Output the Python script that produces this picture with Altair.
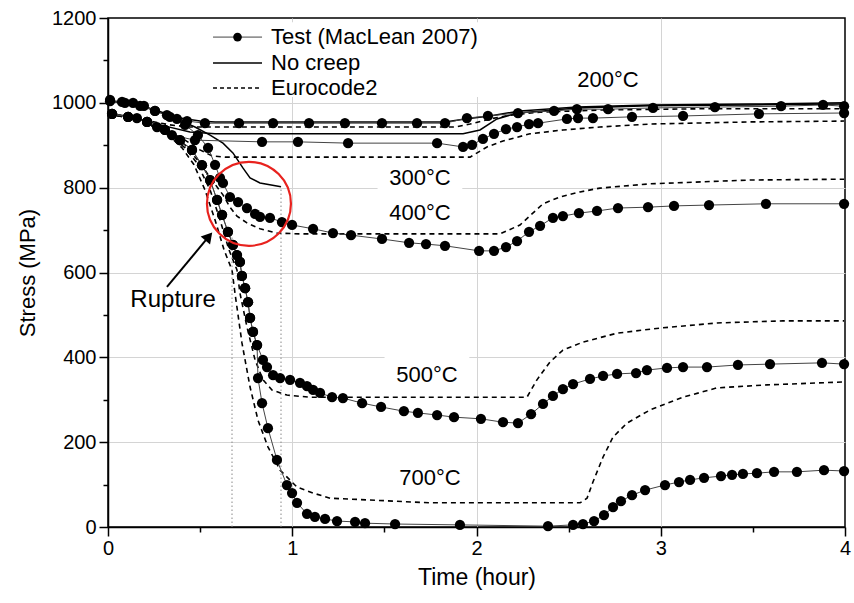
import altair as alt
import pandas as pd

FONT = "Liberation Sans"

# ---------------- data (time in hours, stress in MPa) -------------
# Test (MacLean 2007)
test200_t = [0.011, 0.076, 0.136, 0.195, 0.255, 0.320, 0.374, 0.429, 0.526, 0.711, 0.896, 1.091, 1.286, 1.487,
             1.677, 1.829, 1.948, 2.062, 2.225, 2.421, 2.545, 2.714, 2.958, 3.294, 3.653, 3.881, 3.995]
test200_s = [1007, 1002, 1000, 993, 981, 971, 962, 957, 952, 952, 952, 952, 952, 952,
             952, 952, 964, 969, 976, 981, 985, 985, 988, 990, 992, 995, 992]

test300_t = [0.022, 0.109, 0.157, 0.212, 0.266, 0.347, 0.472, 0.836, 1.031, 1.303, 1.786, 1.927, 1.976,
             2.035, 2.095, 2.160, 2.220, 2.285, 2.334, 2.491, 2.551, 2.632, 2.844, 3.121, 3.533, 3.995]
test300_s = [974, 967, 964, 955, 943, 924, 912, 908, 908, 905, 905, 896, 901,
             915, 927, 938, 943, 950, 952, 962, 964, 964, 967, 969, 974, 976]

test400_t = [0.011, 0.092, 0.174, 0.255, 0.336, 0.418, 0.488, 0.543, 0.581, 0.608, 0.624, 0.662, 0.706,
             0.754, 0.798, 0.825, 0.879, 0.944, 0.999, 1.113, 1.221, 1.319, 1.487, 1.634, 1.726, 1.829,
             2.014, 2.095, 2.160, 2.220, 2.285, 2.345, 2.415, 2.469, 2.556, 2.654, 2.768, 2.931, 3.072,
             3.262, 3.571, 3.995]
test400_s = [1004, 1000, 993, 981, 967, 948, 924, 894, 854, 823, 811, 778, 766,
             752, 738, 731, 729, 719, 712, 703, 693, 688, 679, 670, 667, 663,
             651, 651, 660, 674, 696, 710, 729, 733, 740, 745, 752, 754, 757,
             759, 762, 762]

test500_t = [0.022, 0.109, 0.212, 0.309, 0.391, 0.456, 0.510, 0.554, 0.592, 0.619, 0.651, 0.678, 0.700,
             0.716, 0.727, 0.744, 0.760, 0.771, 0.787, 0.809, 0.841, 0.863, 0.896, 0.934, 0.988, 1.042,
             1.080, 1.113, 1.151, 1.216, 1.275, 1.379, 1.482, 1.606, 1.682, 1.786, 1.878, 2.024, 2.144,
             2.225, 2.296, 2.361, 2.415, 2.469, 2.524, 2.616, 2.687, 2.763, 2.866, 2.925, 3.034, 3.121,
             3.251, 3.419, 3.593, 3.875, 3.995]
test500_s = [974, 967, 955, 936, 912, 889, 853, 818, 771, 736, 696, 665, 641,
             625, 592, 563, 530, 493, 460, 429, 394, 377, 358, 351, 347, 340,
             332, 323, 316, 306, 304, 292, 283, 273, 269, 264, 259, 255, 247,
             245, 266, 290, 309, 325, 337, 349, 356, 361, 363, 370, 375, 377,
             377, 382, 384, 387, 384]

test700_t = [0.022, 0.109, 0.212, 0.309, 0.391, 0.456, 0.510, 0.554, 0.592, 0.619, 0.651, 0.678, 0.700,
             0.716, 0.727, 0.744, 0.760, 0.771, 0.787, 0.809, 0.814, 0.836, 0.868, 0.917, 0.971, 0.999,
             1.026, 1.080, 1.123, 1.178, 1.243, 1.341, 1.395, 1.558, 1.910, 2.388, 2.524, 2.578, 2.638,
             2.692, 2.741, 2.784, 2.844, 2.915, 3.023, 3.099, 3.159, 3.235, 3.327, 3.387, 3.446, 3.522,
             3.615, 3.739, 3.886, 3.995]
test700_s = [974, 967, 955, 936, 912, 889, 853, 818, 771, 736, 696, 665, 641,
             625, 592, 563, 530, 493, 460, 429, 351, 292, 233, 158, 99, 80,
             57, 31, 24, 19, 14, 12, 9, 7, 5, 2, 5, 7, 14,
             28, 47, 61, 75, 87, 99, 106, 111, 116, 120, 123, 125, 127,
             130, 130, 134, 132]

# No creep
nc200_t = [0, 0.119, 0.255, 0.391, 0.499, 0.581, 1.829, 1.938, 2.073, 2.236, 2.545, 2.942, 3.484, 3.995]
nc200_s = [1004, 1000, 983, 964, 957, 955, 955, 962, 969, 981, 990, 995, 997, 1000]
nc300_t = [0, 0.119, 0.282, 0.445, 0.581, 1.927, 2.019, 2.111, 2.220, 2.361, 2.545, 2.942, 3.484, 3.995]
nc300_s = [976, 967, 948, 931, 927, 927, 936, 962, 976, 981, 988, 993, 995, 997]
nc400_t = [0, 0.119, 0.255, 0.364, 0.472, 0.554, 0.624, 0.678, 0.733, 0.771, 0.825, 0.939]
nc400_s = [1004, 1000, 983, 964, 943, 924, 905, 882, 846, 823, 811, 802]

# Eurocode2
ec200_t = [0, 0.119, 0.228, 0.336, 0.445, 1.883, 1.965, 2.073, 2.182, 2.345, 2.670, 3.213, 3.995]
ec200_s = [974, 967, 957, 948, 943, 943, 950, 962, 971, 978, 983, 986, 986]
ec300_t = [0, 0.119, 0.228, 0.336, 0.418, 0.499, 0.564, 0.635, 1.965, 2.057, 2.144, 2.290, 2.469,
           2.670, 2.942, 3.484, 3.995]
ec300_s = [974, 964, 950, 931, 912, 889, 875, 872, 872, 896, 910, 927, 936, 943, 950, 955, 957]
ec400_t = [0, 0.119, 0.228, 0.336, 0.418, 0.499, 0.564, 0.624, 0.662, 0.700, 0.754, 0.825, 0.917,
           1.042, 2.128, 2.236, 2.361, 2.453, 2.562, 2.670, 2.942, 3.484, 3.995]
ec400_s = [974, 964, 950, 929, 901, 858, 818, 783, 754, 733, 717, 703, 693,
           691, 691, 712, 762, 778, 790, 799, 809, 818, 820]
ec500_t = [0, 0.119, 0.228, 0.336, 0.418, 0.483, 0.554, 0.608, 0.657, 0.700, 0.716, 0.754, 0.798,
           0.841, 0.890, 0.971, 1.096, 2.274, 2.328, 2.399, 2.469, 2.578, 2.763, 2.996, 3.305, 3.663, 3.995]
ec500_s = [974, 964, 948, 924, 894, 858, 795, 724, 653, 606, 552, 472, 394,
           347, 323, 311, 306, 306, 347, 389, 417, 436, 457, 469, 481, 486, 486]
ec700_t = [0, 0.119, 0.228, 0.326, 0.402, 0.467, 0.526, 0.581, 0.630, 0.673, 0.689, 0.727, 0.771,
           0.814, 0.868, 0.934, 1.026, 1.113, 1.205, 1.748, 2.562, 2.600, 2.632, 2.687, 2.741, 2.817,
           2.942, 3.121, 3.305, 3.577, 3.995]
ec700_s = [974, 964, 948, 924, 894, 854, 795, 724, 653, 606, 552, 434, 330,
           252, 189, 134, 94, 80, 68, 57, 57, 68, 106, 165, 212, 245,
           276, 306, 328, 335, 342]

# rupture markers
rupture_t = [0.673, 0.939]
rupture_s = [700, 802]

# temperature labels
label_text = ["200°C", "300°C", "400°C", "500°C", "700°C"]
label_t = [2.714, 1.693, 1.693, 1.731, 1.748]
label_s = [1054, 823, 740, 358, 116]

# rupture annotation
rupture_label = "Rupture"
rupture_label_t = 0.353
rupture_label_s = 535
arrow_t = [0.320, 0.542]
arrow_s = [566, 682]
circle_t = 0.765
circle_s = 762

legend_names = ["Test (MacLean 2007)", "No creep", "Eurocode2"]

# ---------------- build tables ----------------
def frame(name, kind, ts, ss):
    return pd.DataFrame({"series": name, "kind": kind, "t": ts, "s": ss, "order": list(range(len(ts)))})

curves = pd.concat([
    frame("T200", "test", test200_t, test200_s),
    frame("T300", "test", test300_t, test300_s),
    frame("T400", "test", test400_t, test400_s),
    frame("T500", "test", test500_t, test500_s),
    frame("T700", "test", test700_t, test700_s),
    frame("N200", "nocreep", nc200_t, nc200_s),
    frame("N300", "nocreep", nc300_t, nc300_s),
    frame("N400", "nocreep", nc400_t, nc400_s),
    frame("E200", "ec2", ec200_t, ec200_s),
    frame("E300", "ec2", ec300_t, ec300_s),
    frame("E400", "ec2", ec400_t, ec400_s),
    frame("E500", "ec2", ec500_t, ec500_s),
    frame("E700", "ec2", ec700_t, ec700_s),
], ignore_index=True)

labels_df = pd.DataFrame({"text": label_text, "t": label_t, "s": label_s})
# white boxes behind the labels (hide gridlines), derived from label positions
boxes_df = pd.DataFrame({
    "t": [t - 0.23 for t in label_t] + [0.53],
    "t2": [t + 0.23 for t in label_t] + [2.03],
    "s": [s - 33 for s in label_s] + [1014],
    "s2": [s + 47 for s in label_s] + [1190],
})
rupt_df = pd.DataFrame({"t": rupture_t, "s0": [0, 0], "s": rupture_s})
arrow_df = pd.DataFrame({"t": [arrow_t[0]], "s": [arrow_s[0]], "t2": [arrow_t[1]], "s2": [arrow_s[1]]})
head_df = pd.DataFrame({"t": [arrow_t[1] + 0.005], "s": [arrow_s[1] + 3]})
circle_df = pd.DataFrame({"t": [circle_t], "s": [circle_s]})
rtext_df = pd.DataFrame({"t": [rupture_label_t], "s": [rupture_label_s], "text": [rupture_label]})

# legend in data coordinates (upper-left)
leg_y = [1155, 1094, 1035]
leg_line = pd.DataFrame({"kind": ["test", "test", "nocreep", "nocreep", "ec2", "ec2"],
                         "t": [0.570, 0.836] * 3,
                         "s": [leg_y[0], leg_y[0], leg_y[1], leg_y[1], leg_y[2], leg_y[2]]})
leg_text = pd.DataFrame({"text": legend_names, "t": [0.885] * 3, "s": leg_y})
leg_dot = pd.DataFrame({"t": [0.703], "s": [leg_y[0]]})

# ---------------- scales & axes ----------------
xs = alt.Scale(domain=[0, 4], nice=False, zero=False)
ys = alt.Scale(domain=[0, 1200], nice=False, zero=False)

AX = dict(
    grid=True, gridColor="#d4d4d4", gridWidth=1,
    labelOverlap=False, labelFlush=False,
    labelFont=FONT, titleFont=FONT, labelFontSize=20,
    labelColor="black", titleColor="black", titleFontWeight="normal",
    domainColor="black", domainWidth=1.5, tickColor="black", tickWidth=1.5,
)

x_axis = alt.Axis(
    values=[i * 0.5 for i in range(9)],
    labelExpr="datum.value % 1 === 0 ? '' + datum.value : ''",
    tickSize={"condition": {"test": "datum.value % 1 !== 0", "value": 5}, "value": 9},
    gridOpacity={"condition": {"test": "datum.value % 1 !== 0 || datum.value == 0 || datum.value == 4",
                               "value": 0}, "value": 1},
    labelPadding=2, titlePadding=8, titleFontSize=23,
    title="Time (hour)", **AX,
)
y_axis = alt.Axis(
    values=[i * 100 for i in range(13)],
    labelExpr="datum.value % 200 === 0 ? '' + datum.value : ''",
    tickSize={"condition": {"test": "datum.value % 200 !== 0", "value": 5}, "value": 9},
    gridOpacity={"condition": {"test": "datum.value % 200 !== 0 || datum.value == 0 || datum.value == 1200",
                               "value": 0}, "value": 1},
    labelPadding=3, titlePadding=12, titleFontSize=22,
    title="Stress (MPa)", **AX,
)

X = alt.X("t:Q", scale=xs, axis=x_axis)
Y = alt.Y("s:Q", scale=ys, axis=y_axis)

base = alt.Chart(curves).encode(x=X, y=Y, detail="series:N", order="order:Q")

boxes = alt.Chart(boxes_df).mark_rect(color="white").encode(x=X, x2="t2:Q", y=Y, y2="s2:Q")

ec_lines = base.transform_filter("datum.kind == 'ec2'").mark_line(
    color="black", strokeWidth=1.6, strokeDash=[5, 4])
nc_lines = base.transform_filter("datum.kind == 'nocreep'").mark_line(color="black", strokeWidth=1.5)
test_lines = base.transform_filter("datum.kind == 'test'").mark_line(color="#444444", strokeWidth=1)
test_dots = alt.Chart(curves).transform_filter("datum.kind == 'test'").mark_circle(
    color="black", size=105, opacity=1).encode(x=X, y=Y)

rupt_lines = alt.Chart(rupt_df).mark_rule(color="#888888", strokeWidth=1, strokeDash=[1.5, 2.5]).encode(
    x=X, y=alt.Y("s0:Q", scale=ys, axis=y_axis), y2="s:Q")

circle = alt.Chart(circle_df).mark_point(shape="circle", size=7056, filled=False, color="#e8221e",
                                         strokeWidth=2.2, opacity=1).encode(x=X, y=Y)
arrow = alt.Chart(arrow_df).mark_rule(color="black", strokeWidth=2).encode(x=X, y=Y, x2="t2:Q", y2="s2:Q")
head = alt.Chart(head_df).mark_point(shape="triangle-up", size=150, filled=True, color="black",
                                     angle=40, opacity=1).encode(x=X, y=Y)

temp_text = alt.Chart(labels_df).mark_text(font=FONT, fontSize=22, color="black").encode(
    x=X, y=Y, text="text:N")
rupt_text = alt.Chart(rtext_df).mark_text(font=FONT, fontSize=24, color="black").encode(
    x=X, y=Y, text="text:N")

leg_base = alt.Chart(leg_line).encode(x=X, y=Y, detail="kind:N")
leg_test = leg_base.transform_filter("datum.kind == 'test'").mark_line(color="#444444", strokeWidth=1)
leg_nc = leg_base.transform_filter("datum.kind == 'nocreep'").mark_line(color="black", strokeWidth=1.5)
leg_ec = leg_base.transform_filter("datum.kind == 'ec2'").mark_line(color="black", strokeWidth=1.4,
                                                                     strokeDash=[4, 3])
leg_pt = alt.Chart(leg_dot).mark_circle(color="black", size=75, opacity=1).encode(x=X, y=Y)
leg_txt = alt.Chart(leg_text).mark_text(font=FONT, fontSize=22, color="black", align="left",
                                        baseline="middle").encode(x=X, y=Y, text="text:N")

chart = alt.layer(
    boxes, ec_lines, nc_lines, test_lines, rupt_lines, test_dots, circle, arrow, head,
    temp_text, rupt_text, leg_test, leg_nc, leg_ec, leg_pt, leg_txt,
).properties(
    width=737, height=509,
    background="white",
    autosize=alt.AutoSizeParams(type="none"),
    padding={"left": 108, "top": 18, "right": 9, "bottom": 76},
).configure_view(
    stroke="black", strokeWidth=1.5,
)

chart.save("out.html", embed_options={"renderer": "svg", "actions": False})
